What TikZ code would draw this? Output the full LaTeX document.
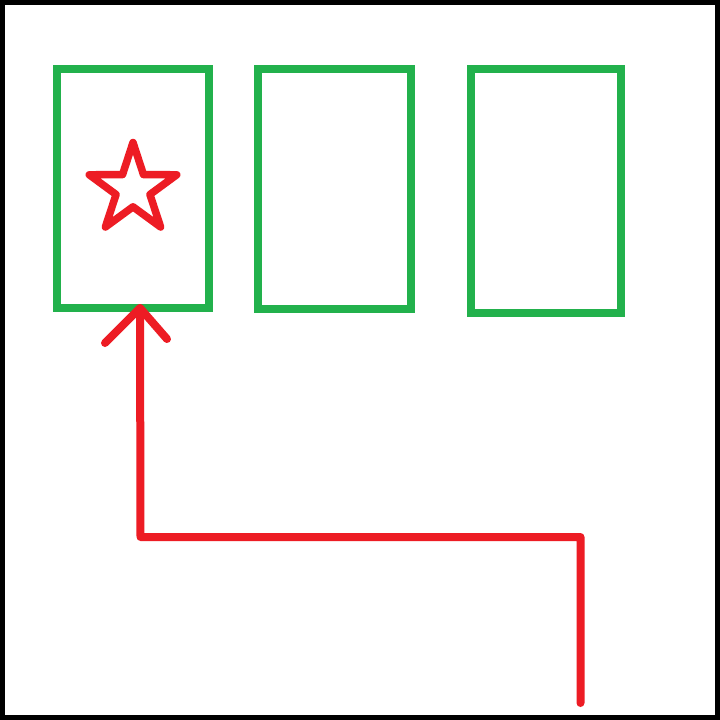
\documentclass[tikz,border=0pt]{standalone}
\definecolor{pgreen}{HTML}{22B14C}
\definecolor{pred}{HTML}{ED1C24}
\begin{document}
\begin{tikzpicture}[x=1pt,y=-1pt,
  card/.style={draw=pgreen,line width=8pt,minimum width=#1,inner sep=0pt},
  redline/.style={draw=pred,line width=8pt,line cap=round,line join=round}]
\useasboundingbox (0,0) rectangle (720,720);
\fill[white] (0,0) rectangle (720,720);
\draw[black,line width=5pt] (2.5,2.5) rectangle (717.5,717.5);
% cards
\node[card=152pt,minimum height=239pt] (box1) at (133,188.5) {};
\node[card=153pt,minimum height=240pt] (box2) at (334.5,189) {};
\node[card=150pt,minimum height=244pt] (box3) at (546,191) {};
% star
\draw[pred,line width=7.5pt,line join=round]
  (133,189) +(90:-46.5) -- +(126:-17.8) -- +(162:-46) -- +(198:-17.8) -- +(234:-47)
  -- +(270:-17.8) -- +(306:-47) -- +(342:-17.8) -- +(18:-46) -- +(54:-17.8) -- cycle;
% arrow path
\coordinate (start) at (580.5,703);
\coordinate (c1) at (580.5,537);
\coordinate (c2) at (140.5,537);
\coordinate (tip) at (140,308);
\coordinate (barbL) at (105,343);
\coordinate (barbR) at (167,339);
\draw[redline] (start) -- (c1) -- (c2) -- (tip);
\draw[redline] (barbL) -- (tip) -- (barbR);
\end{tikzpicture}
\end{document}
